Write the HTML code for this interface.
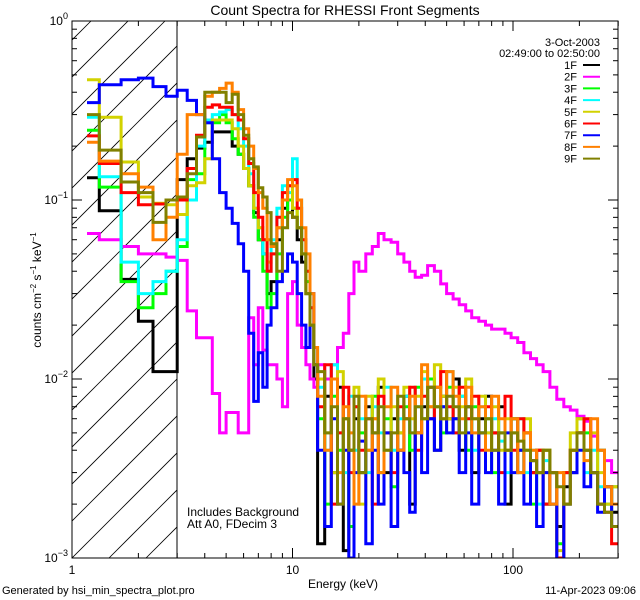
<!DOCTYPE html>
<html><head><meta charset="utf-8"><style>
body{margin:0;background:#fff;}
svg{display:block;font-family:"Liberation Sans","DejaVu Sans",sans-serif;}
</style></head><body>
<svg id="chart" width="640" height="600" viewBox="0 0 640 600" xmlns="http://www.w3.org/2000/svg">
<defs>
<clipPath id="plotclip"><rect x="72" y="21" width="546" height="537"/></clipPath>
<clipPath id="hatchclip"><rect x="72" y="21" width="105" height="537"/></clipPath>
</defs>
<rect width="640" height="600" fill="#fff"/>
<text x="345" y="15" text-anchor="middle" font-size="14">Count Spectra for RHESSI Front Segments</text>
<g id="hatch" clip-path="url(#hatchclip)"></g>
<line x1="177" y1="21" x2="177" y2="558" stroke="#000" stroke-width="1"/>
<g id="series" clip-path="url(#plotclip)"></g>
<g id="axes"></g>
<text x="343" y="588" text-anchor="middle" font-size="12">Energy (keV)</text>
<text transform="translate(41,290) rotate(-90)" text-anchor="middle" font-size="12">counts cm<tspan font-size="8" dy="-5">−2</tspan><tspan dy="5"> s</tspan><tspan font-size="8" dy="-5">−1</tspan><tspan dy="5"> keV</tspan><tspan font-size="8" dy="-5">−1</tspan></text>
<text x="187" y="516" font-size="12">Includes Background</text>
<text x="187" y="528" font-size="12">Att A0, FDecim 3</text>
<text x="2" y="594" font-size="11">Generated by hsi_min_spectra_plot.pro</text>
<text x="636" y="594" text-anchor="end" font-size="11">11-Apr-2023 09:06</text>
<text x="600" y="46" text-anchor="end" font-size="11">3-Oct-2003</text>
<text x="600" y="57" text-anchor="end" font-size="11">02:49:00 to 02:50:00</text>
<g id="legend"></g>
</svg>
<script>
const edges=[1.17,1.33,1.67,2.0,2.33,2.67,3.0,3.33,3.67,4.0,4.33,4.67,5.0,5.33,5.67,6.0,6.33,6.67,7.0,7.33,7.67,8.0,8.5,9,9.5,10,10.5,11,11.5,12,12.5,13,14,15,16,17,18,19,20,21.5,23,24.5,26,28,30,32,34,36,38.5,41,44,47,50,53.5,57,61,65,70,75,80,86,92,98,105,112,120,128,137,147,158,170,182,195,210,225,242,260,280,300];
const seriesNames=["1F","2F","3F","4F","5F","6F","7F","8F","9F"];
const seriesColors=["#000000","#ff00ff","#00ff00","#00ffff","#d2d200","#ff0000","#0000ff","#ff8000","#808000"];
const s1F=[0.133,0.087,0.036,0.021,0.011,0.011,0.13,0.17,0.195,0.21,0.24,0.24,0.24,0.2,0.18,0.15,0.12,0.085,0.06,0.05,0.03,0.035,0.06,0.09,0.1,0.08,0.06,0.045,0.03,0.02,0.01,
0.0012,0.008,0.003,0.009,0.0011,0.004,0.006,0.003,0.007,0.005,0.009,0.003,0.006,0.004,0.008,0.002,0.005,0.007,0.009,0.004,0.008,0.006,0.01,0.004,0.007,0.003,0.006,0.008,0.005,0.007,0.002,0.006,0.004,0.005,0.003,0.004,0.002,0.003,0.0015,0.0025,0.003,0.005,0.004,0.003,0.002,0.0025,0.0018];
const s2F=[0.065,0.06,0.055,0.05,0.05,0.048,0.046,0.024,0.017,0.017,0.0083,0.005,0.0065,0.0065,0.005,0.005,0.022,0.012,0.025,0.0145,0.012,0.012,0.01,0.007,0.03,0.035,0.02,0.015,0.012,0.01,0.009,
0.012,0.01,0.012,0.015,0.018,0.03,0.045,0.04,0.05,0.055,0.065,0.06,0.058,0.05,0.045,0.04,0.037,0.038,0.043,0.04,0.034,0.03,0.028,0.026,0.024,0.022,0.021,0.02,0.019,0.019,0.018,0.017,0.016,0.014,0.013,0.012,0.011,0.009,0.0077,0.007,0.0067,0.0062,0.0058,0.0048,0.004,0.0035,0.003];
const s3F=[0.245,0.118,0.035,0.025,0.03,0.04,0.055,0.13,0.14,0.27,0.27,0.3,0.27,0.22,0.18,0.15,0.12,0.08,0.06,0.04,0.025,0.03,0.05,0.08,0.1,0.09,0.07,0.05,0.035,0.02,0.012,
0.006,0.002,0.008,0.004,0.006,0.0015,0.007,0.005,0.004,0.008,0.003,0.006,0.0025,0.005,0.007,0.004,0.009,0.006,0.01,0.007,0.005,0.009,0.006,0.008,0.004,0.007,0.005,0.006,0.003,0.005,0.004,0.006,0.003,0.004,0.002,0.003,0.004,0.002,0.0012,0.003,0.004,0.006,0.005,0.003,0.004,0.002,0.0025];
const s4F=[0.29,0.135,0.045,0.03,0.035,0.04,0.06,0.1,0.2,0.28,0.3,0.31,0.32,0.3,0.25,0.2,0.14,0.09,0.07,0.05,0.04,0.06,0.09,0.12,0.11,0.17,0.1,0.06,0.04,0.025,0.015,
0.009,0.004,0.012,0.005,0.003,0.008,0.004,0.006,0.003,0.007,0.005,0.009,0.004,0.006,0.008,0.005,0.007,0.01,0.006,0.009,0.007,0.011,0.005,0.008,0.006,0.004,0.007,0.005,0.006,0.0045,0.003,0.005,0.006,0.003,0.004,0.002,0.0035,0.003,0.001,0.002,0.004,0.005,0.003,0.004,0.0025,0.002,0.0015];
const s5F=[0.47,0.29,0.163,0.104,0.096,0.094,0.083,0.12,0.125,0.17,0.28,0.28,0.28,0.25,0.2,0.15,0.12,0.09,0.07,0.06,0.045,0.05,0.07,0.1,0.12,0.09,0.07,0.05,0.03,0.02,0.012,
0.01,0.005,0.003,0.011,0.006,0.004,0.009,0.002,0.008,0.006,0.01,0.004,0.007,0.005,0.009,0.006,0.008,0.011,0.007,0.012,0.008,0.006,0.009,0.007,0.01,0.006,0.008,0.005,0.007,0.004,0.006,0.005,0.004,0.006,0.0035,0.004,0.003,0.002,0.0011,0.003,0.005,0.006,0.004,0.005,0.003,0.002,0.0025];
const s6F=[0.228,0.16,0.11,0.094,0.095,0.1,0.1,0.15,0.23,0.33,0.34,0.33,0.33,0.3,0.28,0.22,0.16,0.11,0.08,0.06,0.04,0.05,0.08,0.11,0.12,0.13,0.09,0.06,0.04,0.025,0.012,
0.007,0.012,0.002,0.005,0.009,0.003,0.007,0.004,0.006,0.002,0.008,0.005,0.003,0.007,0.006,0.009,0.004,0.008,0.006,0.009,0.011,0.007,0.005,0.009,0.006,0.008,0.004,0.007,0.005,0.003,0.008,0.004,0.006,0.005,0.003,0.004,0.002,0.003,0.001,0.003,0.004,0.005,0.006,0.003,0.002,0.0018,0.0012];
const s7F=[0.35,0.44,0.47,0.48,0.43,0.38,0.41,0.36,0.30,0.27,0.17,0.11,0.09,0.074,0.057,0.04,0.018,0.0075,0.014,0.009,0.02,0.025,0.035,0.04,0.05,0.045,0.03,0.02,0.015,0.03,0.012,
0.004,0.0015,0.006,0.002,0.004,0.001,0.003,0.0045,0.0012,0.004,0.002,0.005,0.0015,0.004,0.003,0.0018,0.005,0.003,0.006,0.004,0.007,0.005,0.006,0.003,0.005,0.002,0.005,0.003,0.004,0.002,0.005,0.003,0.004,0.002,0.0035,0.0015,0.003,0.002,0.0009,0.002,0.003,0.004,0.0025,0.003,0.0018,0.0025,0.0015];
const s8F=[0.21,0.165,0.14,0.118,0.06,0.08,0.18,0.3,0.3,0.38,0.4,0.42,0.45,0.4,0.32,0.25,0.2,0.15,0.11,0.09,0.06,0.055,0.07,0.1,0.13,0.12,0.1,0.07,0.05,0.03,0.015,
0.008,0.004,0.01,0.003,0.007,0.005,0.002,0.008,0.004,0.006,0.003,0.007,0.009,0.004,0.006,0.008,0.005,0.012,0.007,0.009,0.006,0.011,0.008,0.006,0.009,0.005,0.007,0.004,0.008,0.006,0.004,0.006,0.003,0.005,0.004,0.003,0.004,0.002,0.003,0.002,0.004,0.005,0.0035,0.006,0.004,0.0025,0.002];
const s9F=[0.3,0.19,0.126,0.11,0.075,0.1,0.104,0.14,0.225,0.4,0.4,0.4,0.35,0.39,0.3,0.23,0.17,0.153,0.117,0.104,0.085,0.057,0.04,0.07,0.085,0.08,0.07,0.05,0.03,0.02,0.012,
0.011,0.005,0.007,0.002,0.006,0.004,0.008,0.003,0.006,0.005,0.007,0.004,0.005,0.008,0.006,0.005,0.007,0.006,0.009,0.007,0.006,0.008,0.007,0.005,0.007,0.006,0.005,0.006,0.004,0.005,0.004,0.005,0.0045,0.004,0.0035,0.003,0.004,0.003,0.0025,0.002,0.004,0.005,0.004,0.003,0.002,0.0018,0.0015];
const allSeries=[s1F,s2F,s3F,s4F,s5F,s6F,s7F,s8F,s9F];
const xTickVals=[1,10,100];
const xTickLabels=["1","10","100"];
const yTickVals=[1,0.1,0.01,0.001];
const yTickExps=["0","−1","−2","−3"];

const X0=72,X1=618,Y0=21,Y1=558,DX=220.5,DY=179;
function xs(e){return X0+Math.log10(e)*DX;}
function ys(v){return Y0-Math.log10(v)*DY;}
const NS="http://www.w3.org/2000/svg";
function mk(tag,attrs,parent){const el=document.createElementNS(NS,tag);for(const k in attrs)el.setAttribute(k,attrs[k]);parent.appendChild(el);return el;}

const hatch=document.getElementById('hatch');
for(let i=-20;i<20;i++){
  const bx=72+i*37;
  const h=mk('line',{x1:bx,y1:558,x2:bx+537,y2:21,stroke:'#000','stroke-width':0.8},hatch);
  
  
}

const sg=document.getElementById('series');
allSeries.forEach((vals,si)=>{
  let d='';
  for(let i=0;i<vals.length;i++){
    const xa=xs(edges[i]).toFixed(1),xb=xs(edges[i+1]).toFixed(1),y=ys(vals[i]).toFixed(1);
    d+=(i===0?'M':'L')+xa+','+y+'L'+xb+','+y;
  }
  const p=mk('path',{d:d,fill:'none',stroke:seriesColors[si],'stroke-width':3,'stroke-linejoin':'miter'},sg);
  
  
});

const ax=document.getElementById('axes');
const frame=mk('rect',{x:X0,y:Y0,width:X1-X0,height:Y1-Y0,fill:'none',stroke:'#000','stroke-width':1},ax);


for(let dec=0;dec<3;dec++){
  for(let m=1;m<10;m++){
    const e=m*Math.pow(10,dec);const x=xs(e);if(x>X1+0.5)continue;
    const L=m===1?10:5;
    const t1=mk('line',{x1:x,y1:Y1,x2:x,y2:Y1-L,stroke:'#000'},ax);
    
    
    const t2=mk('line',{x1:x,y1:Y0,x2:x,y2:Y0+L,stroke:'#000'},ax);
    
    
  }
}
xTickVals.forEach((v,i)=>{
  const t=mk('text',{x:xs(v),y:Y1+16,'text-anchor':'middle','font-size':12},ax);
  t.textContent=xTickLabels[i];
  
  
});
for(let dec=-3;dec<0;dec++){
  for(let m=1;m<10;m++){
    const v=m*Math.pow(10,dec);const y=ys(v);
    const L=m===1?10:5;
    const t1=mk('line',{x1:X0,y1:y,x2:X0+L,y2:y,stroke:'#000'},ax);
    
    
    const t2=mk('line',{x1:X1,y1:y,x2:X1-L,y2:y,stroke:'#000'},ax);
    
    
  }
}
yTickVals.forEach((v,i)=>{
  const t=mk('text',{x:X0-4,y:ys(v)+4,'text-anchor':'end','font-size':12},ax);
  t.innerHTML='10<tspan font-size="9" dy="-6">'+yTickExps[i]+'</tspan>';
  
  
});

const lg=document.getElementById('legend');
seriesNames.forEach((n,i)=>{
  const y=65+i*11.7;
  const t=mk('text',{x:577,y:y+4,'text-anchor':'end','font-size':11},lg);
  t.textContent=n;
  
  
  const l=mk('line',{x1:583,y1:y,x2:600,y2:y,stroke:seriesColors[i],'stroke-width':2},lg);
  
  
});
</script>
</body></html>
